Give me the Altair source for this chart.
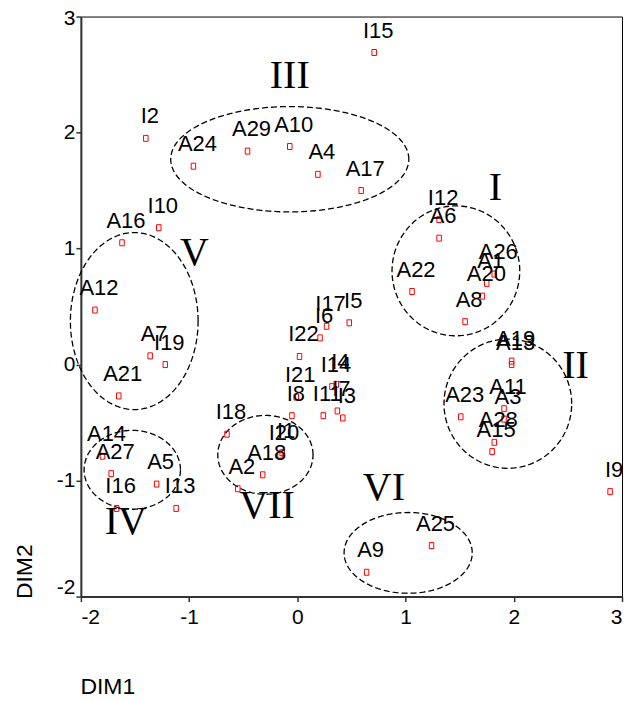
import altair as alt
import pandas as pd
import numpy as np

# ---- point data ----
names = ["I2", "A24", "A29", "A10", "A4", "A17", "I15", "I10", "A16", "A12",
         "A7", "I19", "A21", "I22", "I6", "I17", "I5", "I21", "I8", "I14",
         "I4", "I11", "I7", "I3", "I18", "I20", "I1", "A18", "A2", "A14",
         "A27", "A5", "I16", "I13", "A9", "A25", "I9", "I12", "A6", "A22",
         "A26", "A1", "A20", "A8", "A19", "A13", "A11", "A3", "A28", "A15",
         "A23"]
dim1 = [-1.40, -0.96, -0.46, -0.07, 0.19, 0.59, 0.71, -1.28, -1.62, -1.87,
        -1.36, -1.22, -1.65, 0.02, 0.21, 0.27, 0.48, -0.01, -0.05, 0.32,
        0.36, 0.24, 0.37, 0.42, -0.65, -0.16, -0.14, -0.32, -0.55, -1.80,
        -1.72, -1.30, -1.67, -1.12, 0.64, 1.24, 2.89, 1.31, 1.31, 1.06,
        1.82, 1.75, 1.71, 1.55, 1.98, 1.98, 1.91, 1.91, 1.82, 1.80,
        1.51]
dim2 = [1.95, 1.71, 1.84, 1.88, 1.64, 1.50, 2.69, 1.18, 1.05, 0.47,
        0.075, 0.00, -0.27, 0.07, 0.23, 0.33, 0.36, -0.28, -0.44, -0.19,
        -0.17, -0.44, -0.40, -0.46, -0.60, -0.78, -0.76, -0.95, -1.07, -0.79,
        -0.94, -1.03, -1.24, -1.24, -1.79, -1.56, -1.095, 1.25, 1.09, 0.63,
        0.78, 0.70, 0.59, 0.37, 0.03, 0.00, -0.38, -0.47, -0.67, -0.75,
        -0.45]

# ---- cluster ellipses and roman labels ----
groups = ["I", "II", "III", "IV", "V", "VI", "VII"]
ell_cx = [1.465, 1.945, -0.07, -1.525, -1.507, 1.024, -0.295]
ell_cy = [0.808, -0.337, 1.77, -0.907, 0.375, -1.623, -0.778]
ell_rx = [0.59, 0.59, 1.10, 0.445, 0.59, 0.592, 0.44]
ell_ry = [0.56, 0.557, 0.454, 0.34, 0.763, 0.348, 0.34]
lab_x = [1.83, 2.57, -0.07, -1.585, -0.95, 0.80, -0.28]
lab_y = [1.52, -0.015, 2.49, -1.36, 0.96, -1.06, -1.22]

ticks = [-2, -1, 0, 1, 2, 3]

pts = pd.DataFrame({"name": names, "DIM1": dim1, "DIM2": dim2})

rows = []
ang = np.linspace(0, 2 * np.pi, 181)
for g, cx, cy, rx, ry in zip(groups, ell_cx, ell_cy, ell_rx, ell_ry):
    for i, a in enumerate(ang):
        rows.append({"g": g, "i": i, "DIM1": cx + rx * np.cos(a), "DIM2": cy + ry * np.sin(a)})
ell = pd.DataFrame(rows)
rom = pd.DataFrame({"g": groups, "DIM1": lab_x, "DIM2": lab_y})

xs = alt.Scale(domain=[-2, 3], nice=False, zero=False)
ys = alt.Scale(domain=[-2, 3], nice=False, zero=False)

xax = alt.Axis(values=ticks, labelExpr="'' + datum.value", title="DIM1", grid=False,
               tickSize=5, labelPadding=5,
               labelFontSize=21, titleFontSize=23, titleFontWeight="normal",
               titleAnchor="start", titleAlign="left", titleBaseline="middle",
               titleX=-1, titleY=90)
yax = alt.Axis(values=ticks, labelExpr="'' + datum.value", title="DIM2", grid=False,
               tickSize=5, labelPadding=1,
               labelFontSize=21, titleFontSize=23, titleFontWeight="normal",
               titleAnchor="start", titleAlign="left", titleBaseline="middle",
               titleAngle=270, titleX=-56, titleY=583,
               labelOffset={"condition": [{"test": "datum.value == -2", "value": -9},
                                          {"test": "datum.value == 3", "value": 2}],
                            "value": 0})

ellipses = alt.Chart(ell).mark_line(color="black", strokeWidth=1.3, strokeDash=[6, 3]).encode(
    x=alt.X("DIM1:Q", scale=xs, axis=xax),
    y=alt.Y("DIM2:Q", scale=ys, axis=yax),
    detail="g:N",
    order="i:Q",
)

points = alt.Chart(pts).mark_point(
    shape="M-0.75,-1L0.75,-1L0.75,1L-0.75,1Z", size=36, filled=False,
    color="red", strokeWidth=1, opacity=1,
).encode(x="DIM1:Q", y="DIM2:Q")

labels = alt.Chart(pts).mark_text(
    dx=4, dy=-15, align="center", baseline="alphabetic",
    font="Liberation Sans", fontSize=22, color="black",
).encode(x="DIM1:Q", y="DIM2:Q", text="name:N")

romans = alt.Chart(rom).mark_text(
    align="center", baseline="middle", font="Liberation Serif", fontSize=40, color="black",
).encode(x="DIM1:Q", y="DIM2:Q", text="g:N")

chart = alt.layer(ellipses, points, labels, romans).properties(
    width=542, height=581,
    padding={"left": 73, "top": 8, "right": 10, "bottom": 103},
    autosize=alt.AutoSizeParams(type="none"),
).configure_view(
    stroke="black", strokeWidth=1,
).configure_axis(
    domainColor="#333", domainWidth=2, tickColor="#333", tickWidth=1.5,
    labelColor="black", titleColor="black",
    labelFont="Liberation Sans", titleFont="Liberation Sans",
)

chart.save("out.html", embed_options={"renderer": "svg", "actions": False})
